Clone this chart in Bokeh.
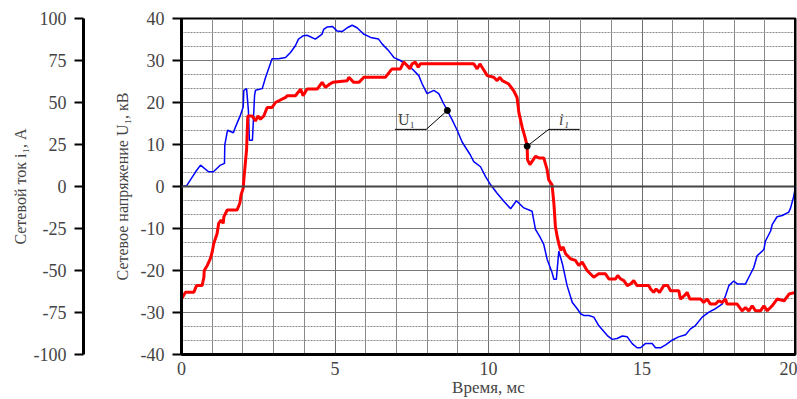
from bokeh.plotting import figure
from bokeh.models import LinearAxis, Range1d, FixedTicker, Span, Label
from bokeh.embed import file_html
from bokeh.resources import INLINE
import numpy as np

FONT = "'Liberation Serif', 'Times New Roman', serif"

# ---- data: network voltage U1 (kV) ----
time_u = [0.0, 0.17, 0.46, 0.62, 0.88, 1.04, 1.27, 1.40, 1.41, 1.50, 1.69, 1.76, 1.92, 2.01, 2.03, 2.12,
          2.18, 2.21, 2.31, 2.38, 2.41, 2.63, 2.74, 2.95, 3.16, 3.39, 3.55, 3.71, 3.81, 3.97, 4.09,
          4.36, 4.58, 4.63, 4.75, 4.92, 5.07, 5.23, 5.40, 5.56, 5.72, 5.93, 6.16, 6.42, 6.54, 6.75,
          6.92, 7.13, 7.46, 7.73, 7.84, 8.00, 8.22, 8.38, 8.54, 8.66, 8.82, 8.98, 9.14, 9.41, 9.52,
          9.74, 9.90, 10.07, 10.28, 10.50, 10.72, 10.91, 11.15, 11.42, 11.53, 11.69, 11.80, 11.91,
          12.07, 12.13, 12.21, 12.29, 12.41, 12.56, 12.73, 12.89, 13.00, 13.10, 13.27, 13.43, 13.59,
          13.87, 14.03, 14.19, 14.36, 14.52, 14.68, 14.84, 14.95, 15.11, 15.33, 15.44, 15.60, 15.77,
          15.98, 16.19, 16.42, 16.58, 16.74, 16.96, 17.18, 17.39, 17.61, 17.72, 17.83, 17.99, 18.10,
          18.37, 18.53, 18.64, 18.75, 18.97, 19.02, 19.19, 19.24, 19.40, 19.57, 19.78, 19.84, 19.94, 20.0]
u1_kv = [0.0, 0.2, 3.5, 5.1, 3.5, 3.5, 5.1, 5.5, 9.9, 13.4, 12.8, 14.2, 17.0, 18.9, 22.9, 23.3,
         18.0, 11.0, 11.0, 21.7, 22.9, 23.3, 26.0, 30.4, 30.4, 30.7, 31.9, 33.5, 35.1, 35.9, 36.0,
         35.1, 36.3, 37.4, 38.0, 38.1, 37.0, 36.9, 37.8, 38.4, 37.8, 36.3, 35.5, 35.1, 33.9, 32.3,
         30.7, 30.0, 28.4, 26.4, 24.4, 22.1, 22.9, 22.1, 19.7, 18.1, 15.8, 13.4, 10.6, 7.5, 5.9,
         4.7, 2.4, 0.4, -1.6, -3.5, -5.3, -3.4, -5.1, -5.9, -10.2, -12.2, -13.8, -17.3,
         -20.5, -22.1, -22.1, -15.4, -18.5, -23.6, -27.6, -29.1, -30.3, -30.7, -30.7, -31.1, -33.1,
         -35.5, -36.4, -36.2, -35.6, -35.8, -37.4, -38.4, -38.4, -37.4, -37.4, -38.4, -38.4, -37.7,
         -36.6, -35.8, -35.3, -33.9, -33.1, -31.1, -29.9, -29.1, -28.0, -26.0, -23.6, -22.5, -23.2,
         -23.2, -20.9, -19.3, -16.5, -15.0, -13.0, -10.6, -9.1, -7.2, -6.9, -6.1, -5.1, -2.4, -0.1]

# ---- data: network current i1 (A) ----
time_i = [0.0, 0.13, 0.40, 0.49, 0.67, 0.73, 0.74, 0.84, 0.94, 1.00, 1.05, 1.16, 1.21, 1.29, 1.36, 1.38,
          1.49, 1.81, 1.90, 1.94, 2.01, 2.03, 2.08, 2.12, 2.16, 2.30, 2.41, 2.49, 2.57, 2.68, 2.79,
          2.95, 3.06, 3.39, 3.44, 3.71, 3.88, 3.96, 4.09, 4.42, 4.58, 4.69, 4.83, 4.93, 5.40, 5.45,
          5.61, 5.78, 5.94, 6.64, 6.81, 6.86, 7.13, 7.24, 7.35, 7.44, 7.51, 7.62, 7.71, 7.78, 9.52,
          9.63, 9.72, 9.79, 9.96, 10.17, 10.28, 10.37, 10.45, 10.66, 10.82, 10.93, 10.99, 11.10,
          11.18, 11.26, 11.27, 11.35, 11.46, 11.53, 11.64, 11.80, 11.91, 11.96, 12.07, 12.13, 12.18,
          12.24, 12.29, 12.35, 12.43, 12.51, 12.67, 12.83, 12.94, 13.05, 13.21, 13.43, 13.59, 13.81,
          13.92, 14.14, 14.21, 14.30, 14.41, 14.52, 14.63, 14.73, 14.84, 15.22, 15.28, 15.38, 15.46,
          15.57, 15.71, 15.84, 15.93, 16.20, 16.25, 16.38, 16.47, 16.56, 16.91, 17.01, 17.12, 17.23,
          17.39, 17.50, 17.61, 17.72, 17.77, 18.10, 18.26, 18.37, 18.48, 18.59, 18.70, 18.86, 18.97,
          19.08, 19.24, 19.40, 19.63, 19.79, 20.0]
i1_a = [-67, -63, -63, -59, -59, -54, -50, -47, -43, -39, -34, -28, -22, -20, -22, -18,
        -14, -14, -10, -5, -1, 4, 14, 22, 42, 42, 39, 42, 40, 42, 47,
        47, 50, 53, 54, 54, 58, 54, 58, 58, 62, 59, 61, 62, 63, 65,
        62, 62, 65, 65, 69, 70, 70, 74, 72, 70, 73, 74, 71, 73, 73,
        70, 73, 71, 66, 65, 63, 65, 63, 61, 57, 53, 44, 35,
        30, 24, 16, 13, 16, 18, 17, 17, 10, 4, 1, -10, -24,
        -30, -34, -38, -36, -40, -43, -44, -47, -45, -50, -54, -52, -52,
        -55, -55, -53, -55, -56, -59, -58, -56, -59, -59, -61, -63, -61,
        -63, -59, -59, -62, -62, -67, -65, -63, -67, -67, -69, -67, -70,
        -70, -68, -69, -67, -70, -70, -74, -72, -74, -71, -74, -74, -71,
        -74, -71, -67, -68, -64, -63]

x_ticks = [0, 5, 10, 15, 20]
u_ticks = [-40, -30, -20, -10, 0, 10, 20, 30, 40]
i_ticks = [-100, -75, -50, -25, 0, 25, 50, 75, 100]

marker_u_t = 8.66   # where the U1 callout touches the blue curve
marker_i_t = 11.26  # where the i1 callout touches the red curve

p = figure(width=797, height=399, x_range=Range1d(0, 20), y_range=Range1d(-40, 40),
           output_backend="svg", toolbar_location=None,
           min_border_left=181, min_border_right=2, min_border_top=18, min_border_bottom=30)
p.extra_y_ranges = {"current": Range1d(-100, 100)}
p.background_fill_color = "white"
p.outline_line_color = "black"
p.outline_line_width = 2

# grid
x_minor = list(range(0, 21))
y_minor = [k * 10.0 / 3.0 for k in range(-12, 13)]
p.xaxis.ticker = FixedTicker(ticks=x_ticks, minor_ticks=x_minor)
p.yaxis.ticker = FixedTicker(ticks=u_ticks, minor_ticks=y_minor)
p.xgrid.grid_line_color = "#6e6e6e"
p.xgrid.grid_line_width = 1
p.xgrid.minor_grid_line_color = "#8a8a8a"
p.xgrid.minor_grid_line_width = 1
p.ygrid.grid_line_color = "#7a7a7a"
p.ygrid.grid_line_width = 1
p.ygrid.minor_grid_line_color = "#8a8a8a"
p.ygrid.minor_grid_line_dash = "2 1"
p.add_layout(Span(location=0, dimension="width", line_color="#444444", line_width=2))
p.add_layout(Span(location=20, dimension="height", line_color="black", line_width=3))

# x axis
xa = p.xaxis[0]
xa.axis_label = "Время, мс"
xa.axis_line_width = 3
xa.major_tick_out = 0
xa.major_tick_in = 0
xa.minor_tick_out = 0
xa.minor_tick_in = 0
xa.major_label_standoff = 7
xa.axis_label_standoff = 0
xa.major_label_text_font = FONT
xa.major_label_text_font_size = "18px"
xa.axis_label_text_font = FONT
xa.axis_label_text_font_size = "17px"
xa.axis_label_text_font_style = "normal"

# voltage axis
ya = p.yaxis[0]
ya.axis_label = "Сетевое напряжение U\u2081, кВ"
ya.axis_line_width = 3
ya.major_tick_out = 9
ya.major_tick_in = 0
ya.minor_tick_out = 0
ya.minor_tick_in = 0
ya.major_tick_line_width = 2
ya.major_label_standoff = 8
ya.axis_label_standoff = 7
ya.major_label_overrides = {t: str(t) for t in u_ticks}
ya.major_label_text_font = FONT
ya.major_label_text_font_size = "18px"
ya.axis_label_text_font = FONT
ya.axis_label_text_font_size = "16px"
ya.axis_label_text_font_style = "normal"

# spacer between the two left axes (its single tick is white on white, only takes room)
spacer = LinearAxis(ticker=FixedTicker(ticks=[-40]), major_tick_out=27, major_tick_in=0,
                    minor_tick_out=0, minor_tick_in=0, major_tick_line_color="white",
                    major_tick_line_width=1, minor_tick_line_color=None, axis_line_color=None,
                    major_label_standoff=0, major_label_overrides={-40: ""},
                    major_label_text_font_size="1px")
p.add_layout(spacer, "left")

# current axis
ia = LinearAxis(y_range_name="current", ticker=FixedTicker(ticks=i_ticks),
                axis_label="Сетевой ток i\u2081, А")
ia.axis_line_width = 3
ia.major_tick_out = 9
ia.major_tick_in = 0
ia.minor_tick_out = 0
ia.minor_tick_in = 0
ia.major_tick_line_width = 2
ia.major_label_standoff = 8
ia.axis_label_standoff = 2
ia.major_label_overrides = {t: str(t) for t in i_ticks}
ia.major_label_text_font = FONT
ia.major_label_text_font_size = "18px"
ia.axis_label_text_font = FONT
ia.axis_label_text_font_size = "16px"
ia.axis_label_text_font_style = "normal"
p.add_layout(ia, "left")

# curves
p.line(time_u, u1_kv, line_color="#0000ff", line_width=1.5)
p.line(time_i, i1_a, line_color="#ff0000", line_width=3, y_range_name="current")

# callouts
mu_y = float(np.interp(marker_u_t, time_u, u1_kv))
mi_y = float(np.interp(marker_i_t, time_i, i1_a)) / 2.5
shelf = 13.6
p.line([6.95, 7.97, marker_u_t], [shelf, shelf, mu_y], line_color="black", line_width=1)
p.line([12.97, 11.96, marker_i_t], [shelf, shelf, mi_y], line_color="black", line_width=1)
p.scatter([marker_u_t, marker_i_t], [mu_y, mi_y], size=6, color="black")
p.add_layout(Label(x=7.05, y=shelf + 0.3, text="U\u2081", text_font=FONT,
                   text_font_size="16px", text_baseline="bottom"))
p.add_layout(Label(x=12.3, y=shelf + 0.3, text="i\u2081", text_font=FONT,
                   text_font_size="16px", text_font_style="italic", text_baseline="bottom"))

open("out.html", "w").write(file_html(p, INLINE))
